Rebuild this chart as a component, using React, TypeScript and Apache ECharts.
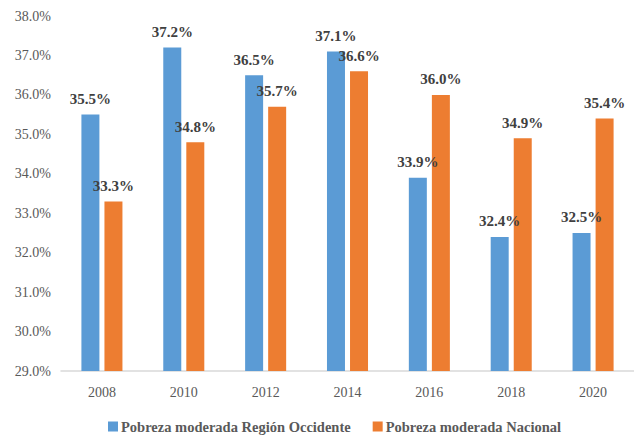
import React, { useEffect, useRef } from "react";
import * as echarts from "echarts";

const years = ["2008", "2010", "2012", "2014", "2016", "2018", "2020"];
const occidente = [35.5, 37.2, 36.5, 37.1, 33.9, 32.4, 32.5];
const nacional = [33.3, 34.8, 35.7, 36.6, 36.0, 34.9, 35.4];
const seriesNames = ["Pobreza moderada Región Occidente", "Pobreza moderada Nacional"];

const FONT = "Times New Roman, serif";

export default function App() {
  const ref = useRef<HTMLDivElement>(null);
  useEffect(() => {
    if (!ref.current) return;
    const chart = echarts.init(ref.current, undefined, { renderer: "svg" });
    const label = {
      show: true,
      position: "top" as const,
      distance: 8,
      fontFamily: FONT,
      fontWeight: "bold" as const,
      fontSize: 15,
      color: "#404040",
      formatter: (p: any) => p.value.toFixed(1) + "%",
    };
    chart.setOption({
      animation: false,
      textStyle: { fontFamily: FONT },
      grid: { left: 61, right: 0, top: 16, bottom: 67, containLabel: false },
      legend: {
        top: 414,
        left: 103,
        itemWidth: 10,
        itemHeight: 10,
        itemGap: 22,
        icon: "rect",
        textStyle: { fontFamily: FONT, fontWeight: "bold", fontSize: 14.5, color: "#595959", padding: [0, 0, 0, -2] },
        data: seriesNames,
      },
      xAxis: {
        type: "category",
        data: years,
        axisLine: { lineStyle: { color: "#d9d9d9", width: 1.5 } },
        axisTick: { show: false },
        axisLabel: { fontFamily: FONT, fontSize: 14, color: "#595959", margin: 14 },
      },
      yAxis: {
        type: "value",
        min: 29,
        max: 38,
        interval: 1,
        splitLine: { show: false },
        axisLine: { show: false },
        axisTick: { show: false },
        axisLabel: {
          fontFamily: FONT,
          fontSize: 14,
          color: "#595959",
          margin: 10,
          formatter: (v: number) => v.toFixed(1) + "%",
        },
      },
      series: [
        {
          name: seriesNames[0],
          type: "bar",
          data: occidente,
          barWidth: 18,
          barGap: "28%",
          itemStyle: { color: "#5B9BD5" },
          label,
        },
        {
          name: seriesNames[1],
          type: "bar",
          data: nacional,
          barWidth: 18,
          itemStyle: { color: "#ED7D31" },
          label,
        },
      ],
    });
    return () => chart.dispose();
  }, []);
  return <div ref={ref} style={{ width: 634, height: 438, position: "absolute", left: 0, top: 0 }} />;
}
